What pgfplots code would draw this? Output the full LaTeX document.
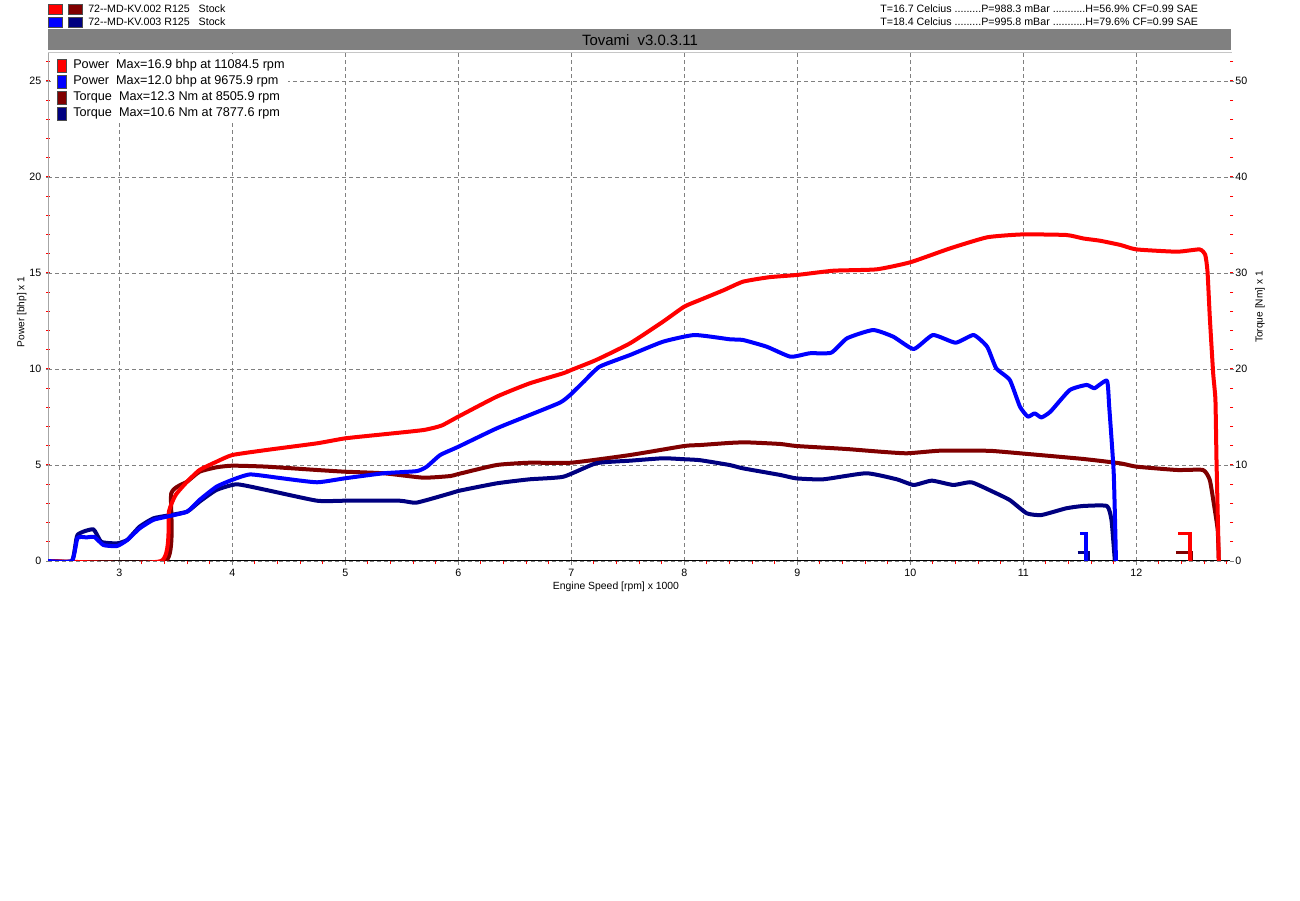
\documentclass[border=0pt]{standalone}
\usepackage{fontspec}
\setmainfont{Liberation Sans}
\usepackage{pgfplots}
\pgfplotsset{compat=1.18}
\definecolor{pRed}{HTML}{FF0000}
\definecolor{pBlue}{HTML}{0000FF}
\definecolor{tRed}{HTML}{800000}
\definecolor{tBlue}{HTML}{000080}
\definecolor{barGray}{HTML}{808080}
\definecolor{gridGray}{HTML}{808080}

\pgfplotstableread{
x y
2.369 0
3.37 0
3.44 2.6
3.50 3.45
3.60 4.13
3.71 4.74
3.86 5.17
4.00 5.52
4.30 5.78
4.75 6.13
5.00 6.39
5.34 6.60
5.69 6.82
5.85 7.05
6.00 7.52
6.34 8.56
6.63 9.25
6.93 9.78
7.00 9.95
7.22 10.47
7.52 11.34
7.81 12.46
8.00 13.25
8.14 13.60
8.35 14.11
8.52 14.55
8.75 14.78
9.00 14.90
9.32 15.12
9.70 15.19
10.00 15.56
10.35 16.28
10.68 16.86
10.99 17.01
11.38 16.98
11.53 16.80
11.68 16.68
11.86 16.46
12.00 16.23
12.36 16.11
12.56 16.23
12.61 15.94
12.63 15.07
12.65 12.72
12.68 9.78
12.70 8.39
12.71 5.10
12.73 0
}\powerA

\pgfplotstableread{
x y
2.369 0
2.58 0
2.63 1.20
2.71 1.23
2.78 1.25
2.86 0.83
2.98 0.78
3.07 1.09
3.18 1.70
3.30 2.14
3.42 2.31
3.60 2.57
3.71 3.18
3.86 3.87
4.01 4.25
4.16 4.51
4.45 4.30
4.75 4.10
5.00 4.31
5.34 4.57
5.63 4.68
5.72 4.91
5.84 5.52
6.00 5.95
6.34 6.91
6.63 7.60
6.90 8.25
6.99 8.65
7.11 9.34
7.25 10.12
7.52 10.73
7.81 11.42
8.09 11.77
8.40 11.55
8.52 11.51
8.73 11.16
8.94 10.64
9.11 10.82
9.30 10.85
9.44 11.60
9.67 12.03
9.85 11.68
10.03 11.04
10.20 11.77
10.40 11.37
10.56 11.77
10.68 11.16
10.76 10.04
10.88 9.43
10.97 8.04
11.04 7.52
11.10 7.69
11.16 7.48
11.24 7.78
11.41 8.90
11.56 9.17
11.63 9.00
11.74 9.39
11.76 8.04
11.80 4.57
11.82 0
}\powerB

\pgfplotstableread{
x y
2.369 0
3.41 0
3.46 7.05
3.60 8.26
3.71 9.30
3.86 9.76
4.00 9.93
4.30 9.83
4.75 9.48
5.00 9.30
5.34 9.14
5.69 8.68
5.93 8.85
6.00 9.06
6.34 10.00
6.63 10.24
7.00 10.24
7.52 11.04
8.00 11.98
8.14 12.08
8.40 12.30
8.55 12.36
8.85 12.19
8.99 11.98
9.43 11.67
9.73 11.39
9.97 11.22
10.26 11.49
10.62 11.49
10.73 11.46
10.99 11.20
11.53 10.63
11.86 10.17
12.00 9.83
12.36 9.48
12.59 9.48
12.65 8.44
12.69 5.66
12.72 3.23
12.73 0
}\torqueA

\pgfplotstableread{
x y
2.369 0
2.58 0
2.63 2.71
2.77 3.30
2.84 2.00
2.98 1.84
3.07 2.20
3.18 3.58
3.30 4.44
3.42 4.72
3.60 5.14
3.71 6.18
3.86 7.40
4.04 7.99
4.30 7.40
4.75 6.28
5.00 6.28
5.48 6.28
5.63 6.08
5.93 7.05
6.00 7.30
6.34 8.09
6.63 8.51
6.93 8.78
7.22 10.18
7.52 10.45
7.81 10.70
8.00 10.60
8.14 10.50
8.40 10.00
8.52 9.65
8.85 8.96
8.99 8.61
9.23 8.51
9.61 9.14
9.88 8.51
10.03 7.92
10.19 8.37
10.38 7.92
10.54 8.20
10.73 7.22
10.88 6.35
11.03 4.97
11.16 4.79
11.38 5.49
11.53 5.73
11.74 5.73
11.78 4.27
11.80 1.50
11.81 0
}\torqueB

\begin{document}
\begin{tikzpicture}
\begin{scope}[x=0.75pt,y=0.75pt]
\path[use as bounding box, fill=white] (0,0) rectangle (1300,900);

% header legend
\draw[black!70, line width=0.4pt, fill=pRed] (48,896) rectangle (62,886);
\draw[black!70, line width=0.4pt, fill=tRed] (68,896) rectangle (82,886);
\draw[black!70, line width=0.4pt, fill=pBlue] (48,883) rectangle (62,872.5);
\draw[black!70, line width=0.4pt, fill=tBlue] (68,883) rectangle (82,872.5);
\node[anchor=west, inner sep=0pt, font=\fontsize{8}{9}\selectfont] at (88,891.3) {72-{}-MD-KV.002 R125\ \ \ Stock};
\node[anchor=west, inner sep=0pt, font=\fontsize{8}{9}\selectfont] at (88,878.3) {72-{}-MD-KV.003 R125\ \ \ Stock};
\node[anchor=west, inner sep=0pt, font=\fontsize{8}{9}\selectfont] at (880,891.3) {T=16.7 Celcius .........P=988.3 mBar ...........H=56.9\% CF=0.99 SAE};
\node[anchor=west, inner sep=0pt, font=\fontsize{8}{9}\selectfont] at (880,878.3) {T=18.4 Celcius .........P=995.8 mBar ...........H=79.6\% CF=0.99 SAE};

% title bar
\fill[barGray] (48,871) rectangle (1231,849.5);
\node[inner sep=0pt, font=\fontsize{11.2}{12}\selectfont] at (640,859.5) {Tovami\ \ v3.0.3.11};
\end{scope}

% torque axis (behind, with grid)
\begin{axis}[
  at={(36pt,254.25pt)}, anchor=south west, scale only axis,
  width=886.5pt, height=381pt,
  xmin=2.369, xmax=12.829, ymin=0, ymax=52.92,
  axis x line*=bottom, axis y line*=right,
  x axis line style={black, line width=0.75pt, -},
  y axis line style={draw=none, -},
  xtick={3,4,...,12}, minor xtick={3.2,3.4,...,12.8},
  ytick={0,10,...,50}, minor ytick={2,4,...,52},
  grid=major,
  major grid style={gridGray, dash pattern=on 3pt off 2.25pt, line width=0.6pt},
  major tick style={gridGray, line width=0.6pt},
  minor tick style={pRed, line width=0.8pt},
  major tick length=3pt, minor tick length=2.5pt,
  tick align=outside,
  /pgf/number format/assume math mode=true,
  ticklabel style={font=\fontsize{8}{9}\selectfont},
  xticklabel style={yshift=0.5pt},
  yticklabel style={xshift=-2.5pt},
  clip=true,
]
\addplot[tRed, line width=3pt, line join=round, smooth, tension=0.3] table {\torqueA};
\addplot[tBlue, line width=3pt, line join=round, smooth, tension=0.3] table {\torqueB};
% end markers
\addplot[tBlue, line width=2.6pt] coordinates {(11.48,0.9) (11.575,0.9) (11.575,0)};
\addplot[tRed, line width=2.6pt] coordinates {(12.35,0.87) (12.49,0.87) (12.49,0)};
\end{axis}

% power axis (front)
\begin{axis}[
  at={(36pt,254.25pt)}, anchor=south west, scale only axis,
  width=886.5pt, height=381pt,
  xmin=2.369, xmax=12.829, ymin=0, ymax=26.46,
  axis x line=none, axis y line*=left,
  y axis line style={gray!70, line width=0.75pt, -},
  ytick={0,5,...,25}, minor ytick={1,2,...,26},
  xtick=\empty,
  major tick style={gridGray, line width=0.6pt},
  minor tick style={pRed, line width=0.8pt},
  major tick length=3pt, minor tick length=2.5pt,
  tick align=center,
  /pgf/number format/assume math mode=true,
  ticklabel style={font=\fontsize{8}{9}\selectfont},
  clip=true,
]
\addplot[pRed, line width=3pt, line join=round, smooth, tension=0.3] table {\powerA};
\addplot[pBlue, line width=3pt, line join=round, smooth, tension=0.3] table {\powerB};
\addplot[pBlue, line width=2.6pt] coordinates {(11.50,1.44) (11.555,1.44) (11.555,0)};
\addplot[pRed, line width=2.6pt] coordinates {(12.37,1.44) (12.475,1.44) (12.475,0)};
\end{axis}

\begin{scope}[x=0.75pt,y=0.75pt]
% top frame line
\draw[gray!45, line width=0.75pt] (48,847) -- (1232,847);

% inner legend
\fill[white] (50.5,845.5) rectangle (288,778);
\draw[black!70, line width=0.4pt, fill=pRed] (57,841) rectangle (66,828);
\draw[black!70, line width=0.4pt, fill=pBlue] (57,825) rectangle (66,812);
\draw[black!70, line width=0.4pt, fill=tRed] (57,809) rectangle (66,796);
\draw[black!70, line width=0.4pt, fill=tBlue] (57,793) rectangle (66,780);
\node[anchor=west, inner sep=0pt, font=\fontsize{9.5}{10}\selectfont] at (73,835) {Power\ \ Max=16.9 bhp at 11084.5 rpm};
\node[anchor=west, inner sep=0pt, font=\fontsize{9.5}{10}\selectfont] at (73,819) {Power\ \ Max=12.0 bhp at 9675.9 rpm};
\node[anchor=west, inner sep=0pt, font=\fontsize{9.5}{10}\selectfont] at (73,803) {Torque\ \ Max=12.3 Nm at 8505.9 rpm};
\node[anchor=west, inner sep=0pt, font=\fontsize{9.5}{10}\selectfont] at (73,787) {Torque\ \ Max=10.6 Nm at 7877.6 rpm};

% axis labels
\node[rotate=90, inner sep=0pt, font=\fontsize{7.6}{8}\selectfont] at (21.7,588) {Power [bhp] x 1};
\node[rotate=90, inner sep=0pt, font=\fontsize{7.6}{8}\selectfont] at (1260,593) {Torque [Nm] x 1};
\node[inner sep=0pt, font=\fontsize{7.8}{8}\selectfont] at (616,313.3) {Engine Speed [rpm] x 1000};
\end{scope}
\end{tikzpicture}
\end{document}
